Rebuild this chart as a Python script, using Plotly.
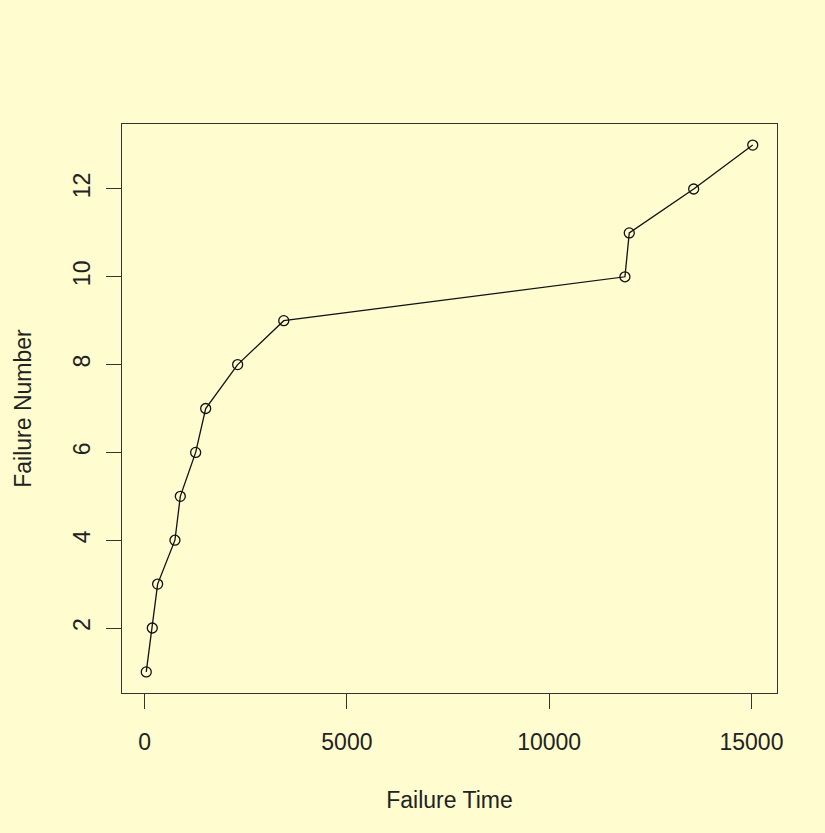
import plotly.graph_objects as go

# Cumulative failure times and the corresponding failure count
failure_time = [41, 190, 322, 750, 883, 1262, 1510, 2300, 3440, 11873, 11980, 13572, 15032]
failure_number = list(range(1, 14))

x_ticks = [0, 5000, 10000, 15000]
y_ticks = [2, 4, 6, 8, 10, 12]

bg = "#FFFCCF"
ink = "#333333"
font_family = "Liberation Sans, Arial, sans-serif"

fig = go.Figure(
    go.Scatter(
        x=failure_time,
        y=failure_number,
        mode="lines+markers",
        line=dict(color="#111111", width=1.3),
        marker=dict(symbol="circle-open", size=10, color="#111111", line=dict(width=1.3)),
        showlegend=False,
    )
)

# R-style 4% padding around the data range
xmin, xmax = min(failure_time), max(failure_time)
ymin, ymax = min(failure_number), max(failure_number)
xpad = 0.04 * (xmax - xmin)
ypad = 0.04 * (ymax - ymin)

axis_common = dict(
    showgrid=False,
    zeroline=False,
    showline=True,
    mirror=True,
    linecolor=ink,
    linewidth=1.3,
    ticks="outside",
    ticklen=15,
    tickwidth=1.3,
    tickcolor=ink,
    tickfont=dict(family=font_family, size=23, color="#222222"),
    title_font=dict(family=font_family, size=23, color="#222222"),
)

fig.update_xaxes(
    range=[xmin - xpad, xmax + xpad],
    tickvals=x_ticks,
    ticktext=[str(v) for v in x_ticks],
    ticklabelstandoff=13,
    title_text="Failure Time",
    title_standoff=38,
    **axis_common,
)
fig.update_yaxes(
    range=[ymin - ypad, ymax + ypad],
    tickvals=y_ticks,
    ticktext=[str(v) for v in y_ticks],
    tickangle=-90,
    ticklabelstandoff=7,
    title_text="Failure Number",
    title_standoff=30,
    **axis_common,
)

fig.update_layout(
    width=825,
    height=833,
    margin=dict(l=122, r=48, t=124, b=140),
    paper_bgcolor=bg,
    plot_bgcolor=bg,
)

fig.write_html("out.html")
